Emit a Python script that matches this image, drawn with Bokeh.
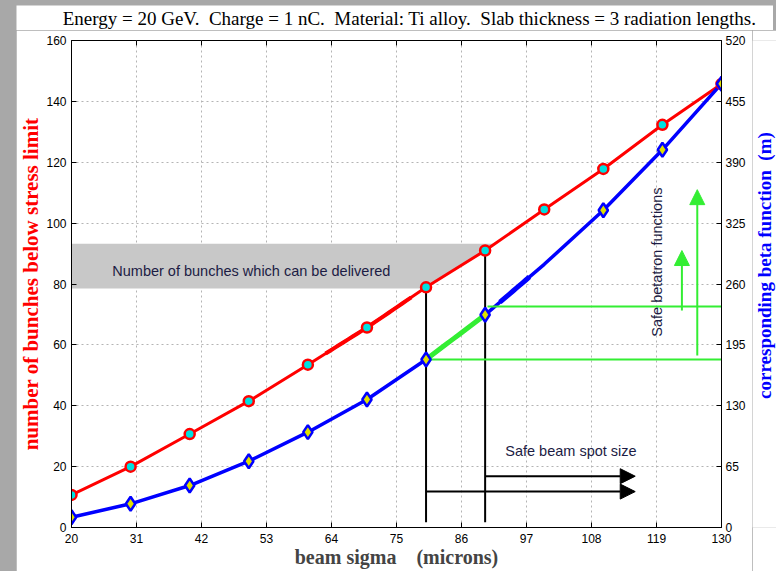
import numpy as np
from bokeh.plotting import figure
from bokeh.models import Range1d, LinearAxis, FixedTicker, Label, Arrow, NormalHead
from bokeh.layouts import column, row
from bokeh.embed import file_html
from bokeh.resources import INLINE

# ---------------- data ----------------
sigma = [20, 30, 40, 50, 60, 70, 80, 90, 100, 110, 120, 130]
bunches = [10.7, 20.0, 30.7, 41.5, 53.5, 65.7, 78.9, 91.0, 104.5, 117.8, 132.3, 145.7]
beta = [11.0, 25.3, 44.8, 70.8, 101.8, 136.7, 179.4, 227.1, 281.0, 338.8, 403.3, 473.8]
beta_marker_sigma = [20, 30, 40, 50, 60, 70, 80, 90, 110, 120, 130]
x_ticks = [20, 31, 42, 53, 64, 75, 86, 97, 108, 119, 130]
left_ticks = [0, 20, 40, 60, 80, 100, 120, 140, 160]
right_ticks = [0, 65, 130, 195, 260, 325, 390, 455, 520]
safe_sigma = [80, 90]
safe_beta = [179.4, 236.0]
band = [78.5, 93.2]

NB = "\u00a0"
title_text = ("Energy = 20 GeV." + NB + " Charge = 1 nC." + NB + " Material: Ti alloy."
              + NB + " Slab thickness = 3 radiation lengths.")
xlabel = "beam sigma" + NB * 3 + " (microns)"
ylabel_left = "number of bunches below stress limit"
ylabel_right = "corresponding beta function" + NB + " (m)"
note_band = "Number of bunches which can be delivered"
note_spot = "Safe beam spot size"
note_beta = "Safe betatron functions"

RED = "#ff0000"
BLUE = "#0000ff"
GREEN = "#33ee33"
NAVY = "#1c1c44"
GRAY_BG = "#a8a8a8"


def blank_fig(w, h):
    f = figure(width=w, height=h, x_range=Range1d(0, w), y_range=Range1d(0, h),
               output_backend="svg", toolbar_location=None,
               x_axis_location=None, y_axis_location=None,
               min_border=0, background_fill_color="white", border_fill_color="white")
    f.outline_line_color = None
    f.grid.visible = False
    return f


# ---- title strip ----
pt = blank_fig(757, 25)
pt.add_layout(Label(x=393, y=12, text=title_text, text_font="Liberation Serif",
                    text_font_size="19px", text_color="black",
                    text_align="center", text_baseline="middle"))
pt.margin = (5, 3, 0, 16)

# ---- main plot ----
p = figure(width=736, height=541, x_range=Range1d(20, 130), y_range=Range1d(0, 160),
           output_backend="svg", toolbar_location=None,
           min_border_left=55, min_border_right=31, min_border_top=10, min_border_bottom=44,
           background_fill_color="white", border_fill_color="white")
p.extra_y_ranges = {"beta": Range1d(0, 520)}
p.outline_line_color = "black"
p.outline_line_width = 1


def style_axis(ax, standoff):
    ax.major_tick_in = 5
    ax.major_tick_out = 0
    ax.minor_tick_line_color = None
    ax.axis_line_color = "black"
    ax.major_tick_line_color = "black"
    ax.major_label_text_font = "Liberation Sans"
    ax.major_label_text_font_size = "12px"
    ax.major_label_text_color = "black"
    ax.major_label_standoff = standoff
    ax.axis_label_text_font = "Liberation Serif"
    ax.axis_label_text_font_style = "bold"


p.xaxis.ticker = FixedTicker(ticks=x_ticks)
p.yaxis.ticker = FixedTicker(ticks=left_ticks)
style_axis(p.xaxis[0], 6)
style_axis(p.yaxis[0], 5)
p.xaxis.axis_label = xlabel
p.xaxis.axis_label_text_font_size = "20px"
p.xaxis.axis_label_standoff = 0
p.yaxis.axis_label = ylabel_left
p.yaxis.axis_label_text_font_size = "21px"
p.yaxis.axis_label_text_color = RED
p.yaxis.axis_label_standoff = 0

right = LinearAxis(y_range_name="beta", ticker=FixedTicker(ticks=right_ticks))
style_axis(right, 4)
p.add_layout(right, "right")

p.xgrid.ticker = FixedTicker(ticks=x_ticks)
p.ygrid.ticker = FixedTicker(ticks=left_ticks)
for g in (p.xgrid[0], p.ygrid[0]):
    g.grid_line_color = "#b4b4b4"
    g.grid_line_dash = "2 3"
    g.grid_line_width = 1

# top-edge tick marks (box ticks)
p.ray(x=x_ticks, y=[160] * len(x_ticks), length=5, length_units="screen",
      angle=-np.pi / 2, color="black", line_width=1)

# gray band (bunches that can be delivered)
xs_b = np.array(sigma, dtype=float)
ys_r = np.array(bunches, dtype=float)
ys_bt = np.array(beta, dtype=float)
x_top = float(np.interp(band[1], ys_r, xs_b))
x_bot = float(np.interp(band[0], ys_r, xs_b))
p.patch([20, 20, x_top, x_bot], [band[0], band[1], band[1], band[0]],
        fill_color="#c8c8c8", line_color=None)

# main curves
p.line(sigma, bunches, color=RED, line_width=3)
seg = np.linspace(63, 77.5, 20)
p.line(seg, np.interp(seg, xs_b, ys_r), color=RED, line_width=4)

p.line(sigma, beta, y_range_name="beta", color=BLUE, line_width=3.5)
seg_b = np.linspace(92.5, 97.5, 10)
p.line(seg_b, np.interp(seg_b, xs_b, ys_bt), y_range_name="beta", color=BLUE, line_width=5)
seg_g = np.linspace(safe_sigma[0], safe_sigma[1], 10)
p.line(seg_g, np.interp(seg_g, xs_b, ys_bt), y_range_name="beta", color=GREEN, line_width=5)

# vertical black lines from red curve
red_at = np.interp(safe_sigma, xs_b, ys_r)
p.segment(x0=safe_sigma, y0=list(red_at), x1=safe_sigma, y1=[1.7, 1.7], color="black", line_width=2)

# horizontal green lines
p.segment(x0=[safe_sigma[0], safe_sigma[1] + 0.4], y0=safe_beta, x1=[130, 130], y1=safe_beta,
          y_range_name="beta", color=GREEN, line_width=2)

# markers
p.scatter(sigma, bunches, marker="circle", size=10, line_color=RED, line_width=2.5, fill_color="#00e0e0")
p.scatter(beta_marker_sigma, list(np.interp(beta_marker_sigma, xs_b, ys_bt)), y_range_name="beta",
          marker="diamond", size=14, line_color=BLUE, line_width=2.5, fill_color="#e0e000")

# arrows
for xa, y0, y1 in [(123.3, 71.3, 91.0), (125.9, 56.5, 111.0)]:
    p.add_layout(Arrow(end=NormalHead(size=15, fill_color=GREEN, line_color=GREEN),
                       x_start=xa, y_start=y0, x_end=xa, y_end=y1,
                       line_color=GREEN, line_width=2))
for xs0, ya in [(safe_sigma[1], 16.85), (safe_sigma[0], 11.8)]:
    p.add_layout(Arrow(end=NormalHead(size=15, fill_color="black", line_color="black"),
                       x_start=xs0, y_start=ya, x_end=115.4, y_end=ya,
                       line_color="black", line_width=2))

# annotation texts
p.add_layout(Label(x=26.9, y=84.4, text=note_band, text_font="Liberation Sans",
                   text_font_size="14.5px", text_color=NAVY, text_baseline="middle"))
p.add_layout(Label(x=93.4, y=25.1, text=note_spot, text_font="Liberation Sans",
                   text_font_size="14.5px", text_color=NAVY, text_baseline="middle"))
p.add_layout(Label(x=119.1, y=87.2, text=note_beta, text_font="Liberation Sans",
                   text_font_size="14.5px", text_color=NAVY, text_baseline="middle",
                   text_align="center", angle=np.pi / 2))
p.margin = (0, 0, 0, 16)

# ---- right axis label strip ----
pr = blank_fig(24, 541)
pr.add_layout(Label(x=12, y=291, text=ylabel_right, text_font="Liberation Serif",
                    text_font_size="19px", text_font_style="bold", text_color=BLUE,
                    text_align="center", text_baseline="middle", angle=np.pi / 2))
pr.margin = (0, 0, 0, 0)

root = column(pt, row(p, pr), width=776, height=571, styles={"background-color": GRAY_BG})

open("out.html", "w").write(file_html(root, INLINE))
